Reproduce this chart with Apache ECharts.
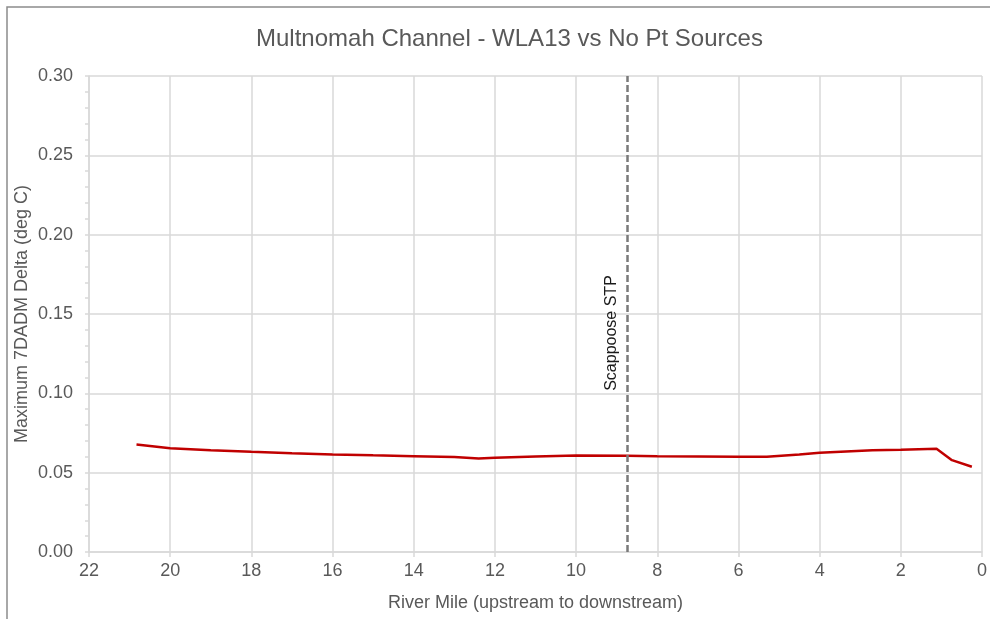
<!DOCTYPE html>
<html>
<head>
<meta charset="utf-8">
<script src="https://cdn.jsdelivr.net/npm/echarts@6/dist/echarts.min.js"></script>
<style>html,body{margin:0;padding:0;background:#fff;}#c{width:990px;height:619px;}</style>
</head>
<body>
<div id="c"></div>
<script>
var titleText = 'Multnomah Channel - WLA13 vs No Pt Sources';
var xAxisName = 'River Mile (upstream to downstream)';
var yAxisName = 'Maximum 7DADM Delta (deg C)';
var riverMile = [20.83, 20, 19, 18, 17, 16, 15, 14, 13, 12.4, 12, 11, 10, 8.74, 8, 7, 6, 5.3, 4.5, 4, 2.7, 2, 1.12, 0.74, 0.25];
var delta = [0.0678, 0.0654, 0.0642, 0.0632, 0.0623, 0.0615, 0.0609, 0.0604, 0.0598, 0.0590, 0.0594, 0.0602, 0.0608, 0.0607, 0.0604, 0.0602, 0.0600, 0.0600, 0.0615, 0.0625, 0.0642, 0.0645, 0.0651, 0.0579, 0.0537];
var stpMile = 8.74;
var stpLabel = 'Scappoose STP';

var seriesData = riverMile.map(function (m, i) { return [m, delta[i]]; });
var font = 'Liberation Sans, Arial, sans-serif';
var textGray = '#595959';
var gridGray = '#d9d9d9';

var chart = echarts.init(document.getElementById('c'), null, { renderer: 'canvas' });
chart.setOption({
  animation: false,
  backgroundColor: '#ffffff',
  title: {
    text: titleText, left: 251, top: 22,
    textStyle: { fontFamily: font, fontSize: 24, fontWeight: 'normal', color: textGray }
  },
  graphic: [{
    type: 'rect',
    shape: { x: 7, y: 7, width: 1000, height: 700 },
    style: { fill: 'none', stroke: '#8c8c8c', lineWidth: 1.5 },
    silent: true, z: 100
  }],
  grid: { left: 89, right: 7, top: 76, bottom: 67 },
  xAxis: {
    type: 'value', inverse: true, min: 0, max: 22, interval: 2,
    name: xAxisName, nameLocation: 'middle', nameGap: 42, nameMoveOverlap: false,
    nameTextStyle: { fontFamily: font, fontSize: 18, color: textGray },
    axisLine: { show: true, onZero: false, lineStyle: { color: gridGray, width: 1.5 } },
    axisTick: { show: true, length: 5, lineStyle: { color: gridGray, width: 1.5 } },
    axisLabel: { fontFamily: font, fontSize: 18, color: textGray, margin: 10 },
    splitLine: { show: true, lineStyle: { color: gridGray, width: 1.5 } }
  },
  yAxis: {
    type: 'value', min: 0, max: 0.3, interval: 0.05,
    name: yAxisName, nameLocation: 'middle', nameGap: 58, nameMoveOverlap: false,
    nameTextStyle: { fontFamily: font, fontSize: 18, color: textGray },
    axisLine: { show: true, onZero: false, lineStyle: { color: gridGray, width: 1.5 } },
    axisTick: { show: true, length: 4, lineStyle: { color: gridGray, width: 1.5 } },
    minorTick: { show: true, splitNumber: 5, length: 4, lineStyle: { color: gridGray, width: 1.5 } },
    axisLabel: { fontFamily: font, fontSize: 18, color: textGray, margin: 16,
      formatter: function (v) { return v.toFixed(2); } },
    splitLine: { show: true, lineStyle: { color: gridGray, width: 1.5 } }
  },
  series: [{
    type: 'line', data: seriesData, showSymbol: false, symbol: 'none',
    lineStyle: { color: '#c00000', width: 2.5 },
    z: 3,
    markLine: {
      silent: true, symbol: ['none', 'none'],
      lineStyle: { color: '#7a7a7a', width: 2.5, type: [7, 3] },
      label: {
        show: true, formatter: stpLabel, position: 'insideMiddleTop',
        fontFamily: font, fontSize: 16, color: '#1a1a1a', distance: 8,
        padding: [0, 38, 0, 0]
      },
      data: [[{ coord: [stpMile, 0] }, { coord: [stpMile, 0.3] }]]
    }
  }]
});
</script>
</body>
</html>
